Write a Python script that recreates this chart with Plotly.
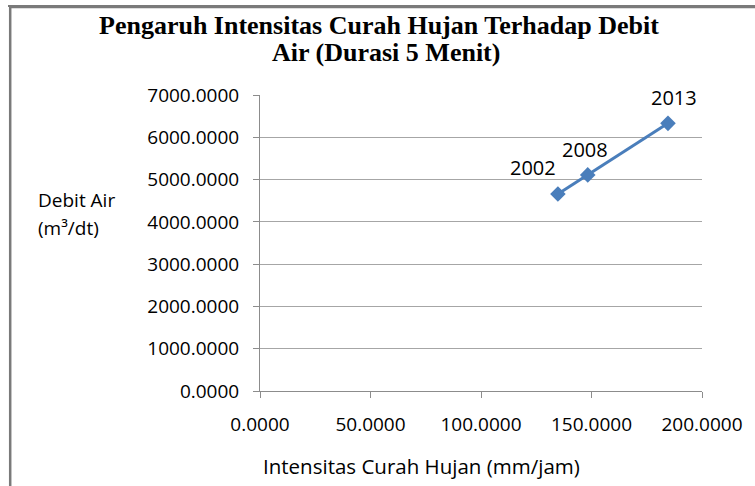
import plotly.graph_objects as go

# Data
years = ["2002", "2008", "2013"]
intensitas = [134.8, 148.3, 184.6]   # mm/jam
debit = [4660.0, 5110.0, 6330.0]     # m3/dt

x_ticks = [0, 50, 100, 150, 200]
y_ticks = [0, 1000, 2000, 3000, 4000, 5000, 6000, 7000]

W, H = 755, 486
L, R, T, B = 260, 50, 95, 95
PW, PH = W - L - R, H - T - B


def px(x):
    return (x - L) / PW


def py(y):
    return (H - B - y) / PH


fig = go.Figure()
fig.add_trace(go.Scatter(
    x=intensitas, y=debit, mode="lines+markers",
    line=dict(color="#4A7EBB", width=3),
    marker=dict(symbol="diamond", size=12, color="#4A7EBB"),
    hoverinfo="skip", showlegend=False,
))

tick_font = dict(family="Open Sans", size=19, color="#000000")

fig.update_layout(
    width=W, height=H,
    margin=dict(l=L, r=R, t=T, b=B),
    paper_bgcolor="white", plot_bgcolor="white",
    xaxis=dict(range=[0, 200], tickvals=x_ticks,
               ticktext=[f"{v:.4f}" for v in x_ticks],
               showgrid=False, zeroline=False, showline=True,
               linecolor="#8C8C8C", linewidth=1,
               ticks="outside", ticklen=6, tickcolor="#8C8C8C",
               ticklabelstandoff=10,
               tickfont=tick_font, fixedrange=True),
    yaxis=dict(range=[0, 7000], tickvals=y_ticks,
               ticktext=[f"{v:.4f}" for v in y_ticks],
               showgrid=True, gridcolor="#A6A6A6", gridwidth=1,
               zeroline=False, showline=True,
               linecolor="#8C8C8C", linewidth=1,
               ticks="outside", ticklen=6, tickcolor="#8C8C8C",
               ticklabelstandoff=10,
               tickfont=tick_font, fixedrange=True),
)

annotations = []
title_font = dict(family="Liberation Serif", size=26, color="#000000")
annotations.append(dict(text="<b>Pengaruh Intensitas Curah Hujan Terhadap Debit</b>",
                        x=px(380), y=py(25), xref="paper", yref="paper",
                        xanchor="center", yanchor="middle", showarrow=False,
                        font=title_font))
annotations.append(dict(text="<b>Air (Durasi 5 Menit)</b>",
                        x=px(387), y=py(52), xref="paper", yref="paper",
                        xanchor="center", yanchor="middle", showarrow=False,
                        font=title_font))

label_font = dict(family="Open Sans", size=19, color="#000000")
annotations.append(dict(text="Debit Air", x=px(34), y=py(200), xref="paper", yref="paper",
                        xanchor="left", yanchor="middle", showarrow=False, font=label_font))
annotations.append(dict(text="(m³/dt)", x=px(34), y=py(228), xref="paper", yref="paper",
                        xanchor="left", yanchor="middle", showarrow=False, font=label_font))
annotations.append(dict(text="Intensitas Curah Hujan (mm/jam)", x=px(423), y=py(466),
                        xref="paper", yref="paper", xanchor="center", yanchor="middle",
                        showarrow=False,
                        font=dict(family="Open Sans", size=20.5, color="#000000")))

shifts = [(-25, 26), (-3, 25), (6, 26)]
for yr, xv, yv, (dx, dy) in zip(years, intensitas, debit, shifts):
    annotations.append(dict(text=yr, x=xv, y=yv, xref="x", yref="y",
                            xshift=dx, yshift=dy, showarrow=False,
                            xanchor="center", yanchor="middle",
                            font=dict(family="Open Sans", size=20, color="#000000")))

fig.update_layout(annotations=annotations)

# outer chart border: left edge as a shape, top edge as a pixel-positioned line
fig.add_shape(type="line", xref="paper", yref="paper",
              x0=px(8.5), x1=px(8.5), y0=py(490), y1=py(6),
              line=dict(color="#7A7A7A", width=2.5), layer="above")
fig.add_shape(type="line", xref="paper", yref="paper",
              x0=px(8.5), x1=px(760), y0=py(7), y1=py(7),
              line=dict(color="#7A7A7A", width=2.5), layer="above")

top_border_js = (
    "document.body.style.margin='0';document.body.style.overflow='hidden';"
    "var d=document.createElement('div');"
    "d.style.cssText='position:absolute;left:8px;top:5px;width:760px;height:0;"
    "border-top:2px solid #7A7A7A;pointer-events:none;z-index:10';"
    "document.body.appendChild(d);"
)
fig.write_html("out.html", config={"displayModeBar": False}, post_script=top_border_js)
